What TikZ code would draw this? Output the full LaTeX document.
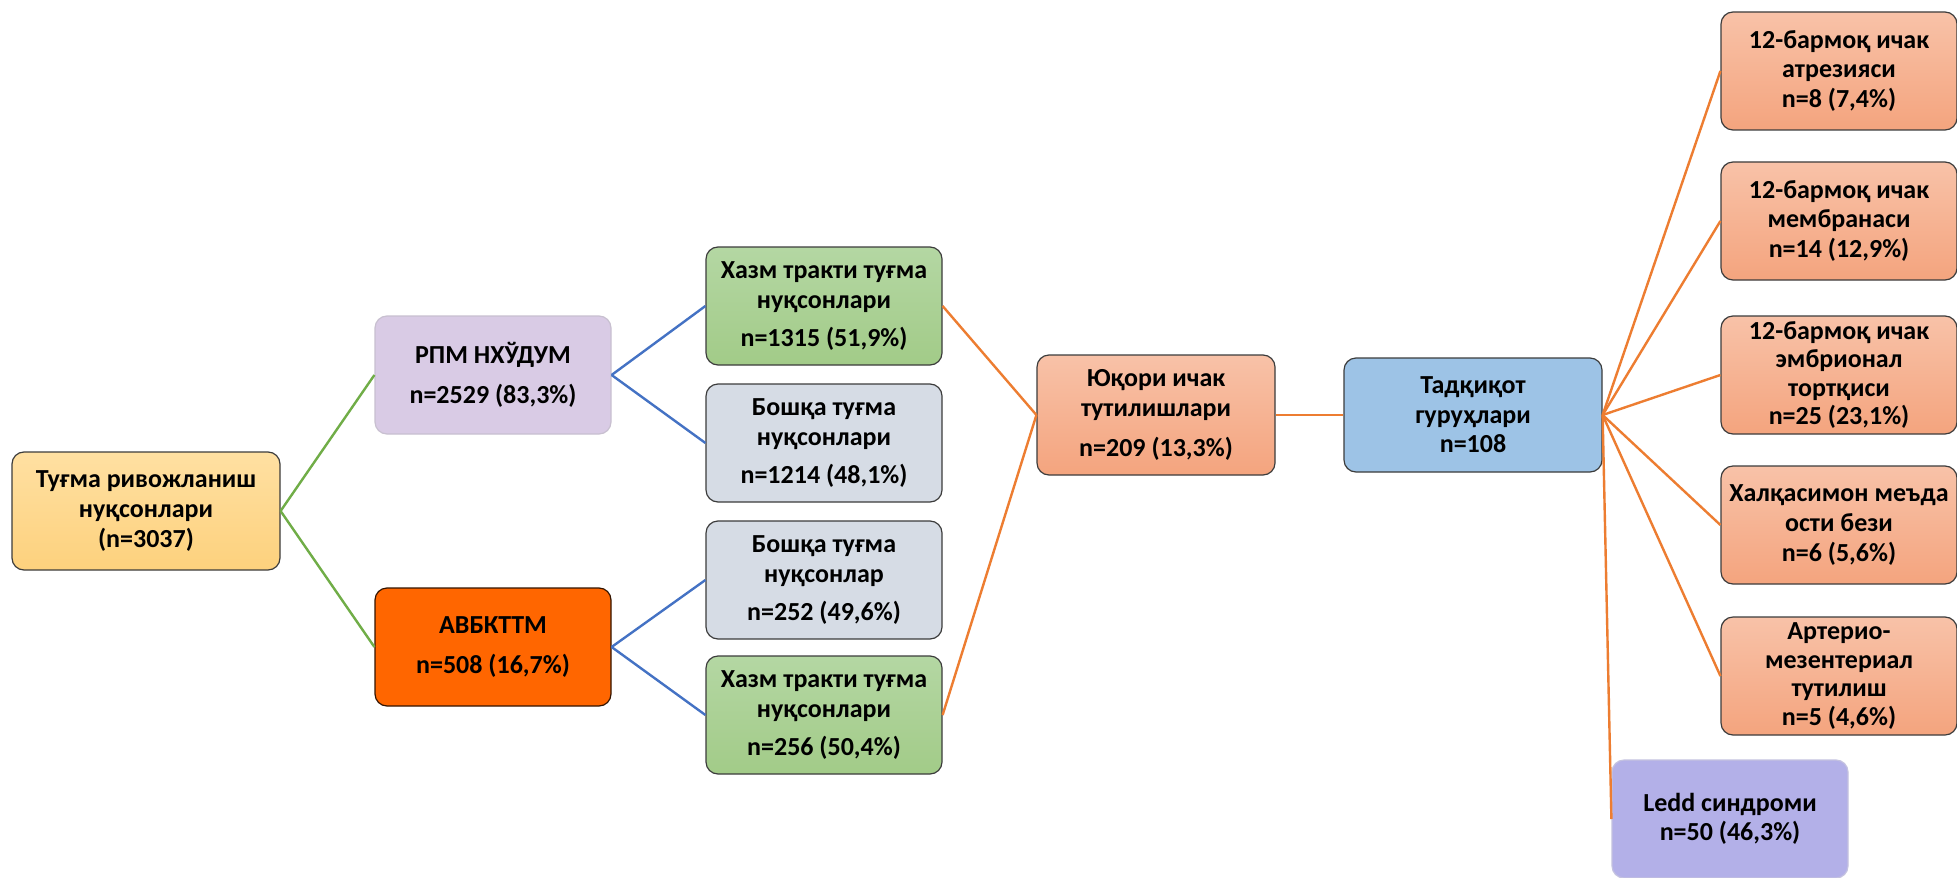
\documentclass[tikz,border=0pt]{standalone}
\usepackage{fontspec}
\setmainfont{Carlito}
\definecolor{cgreen}{HTML}{70AD47}
\definecolor{cblue}{HTML}{4472C4}
\definecolor{corange}{HTML}{ED7D31}
\definecolor{rootT}{HTML}{FFE0A2}
\definecolor{rootB}{HTML}{FDD17D}
\definecolor{lav}{HTML}{D9CBE5}
\definecolor{lavline}{HTML}{C8C0D0}
\definecolor{hot}{HTML}{FF6600}
\definecolor{grT}{HTML}{B4D7A3}
\definecolor{grB}{HTML}{A2CB88}
\definecolor{gry}{HTML}{D6DCE5}
\definecolor{saT}{HTML}{F8C2A8}
\definecolor{saB}{HTML}{F4A47E}
\definecolor{sky}{HTML}{9DC3E6}
\definecolor{led}{HTML}{B3B0E8}
\definecolor{ledline}{HTML}{C4C2E0}
\definecolor{edge}{HTML}{3C3C3C}
\tikzset{
  box/.style={draw=edge, line width=0.6pt, rounded corners=6pt, align=center,
    font=\bfseries\fontsize{13}{14.8}\selectfont, inner sep=0pt,
    minimum width=118pt, minimum height=59pt},
  rootbox/.style={box, top color=rootT, bottom color=rootB, minimum width=134pt},
  lavbox/.style={box, fill=lav, draw=lavline},
  hotbox/.style={box, fill=hot, draw=black!80!hot},
  greenbox/.style={box, top color=grT, bottom color=grB},
  graybox/.style={box, fill=gry},
  salbox/.style={box, top color=saT, bottom color=saB},
  skybox/.style={box, fill=sky, minimum width=129pt, minimum height=57pt},
  ledbox/.style={box, fill=led, draw=ledline},
  gline/.style={draw=cgreen, line width=1.2pt},
  bline/.style={draw=cblue, line width=1.2pt},
  oline/.style={draw=corange, line width=1.2pt}
}
\begin{document}
\begin{tikzpicture}[x=0.5pt,y=-0.5pt]
\useasboundingbox[fill=white] (0,0) rectangle (1957,877);

\node[rootbox] (root) at (146,511) {Туғма ривожланиш\\нуқсонлари\\(n=3037)};
\node[lavbox] (rpm) at (493,375) {РПМ НХЎДУМ\\[5pt]n=2529 (83,3\%)};
\node[hotbox] (avb) at (493,647) {АВБКТТМ\\[5pt]n=508 (16,7\%)};

\node[greenbox] (h1) at (824,306) {Хазм тракти туғма\\нуқсонлари\\[4pt]n=1315 (51,9\%)};
\node[graybox] (b1) at (824,443) {Бошқа туғма\\нуқсонлари\\[4pt]n=1214 (48,1\%)};
\node[graybox] (b2) at (824,580) {Бошқа туғма\\нуқсонлар\\[4pt]n=252 (49,6\%)};
\node[greenbox] (h2) at (824,715) {Хазм тракти туғма\\нуқсонлари\\[4pt]n=256 (50,4\%)};

\node[salbox, minimum width=119pt, minimum height=60pt] (yuq) at (1156,415) {Юқори ичак\\тутилишлари\\[5pt]n=209 (13,3\%)};
\node[skybox] (tad) at (1473,415) {Тадқиқот\\гуруҳлари\\n=108};

\node[salbox] (r1) at (1839,71) {12-бармоқ ичак\\атрезияси\\n=8 (7,4\%)};
\node[salbox] (r2) at (1839,221) {12-бармоқ ичак\\мембранаси\\n=14 (12,9\%)};
\node[salbox, font=\bfseries\fontsize{13}{14.2}\selectfont] (r3) at (1839,375) {12-бармоқ ичак\\эмбрионал\\тортқиси\\n=25 (23,1\%)};
\node[salbox] (r4) at (1839,525) {Халқасимон меъда\\ости бези\\n=6 (5,6\%)};
\node[salbox, font=\bfseries\fontsize{13}{14.2}\selectfont] (r5) at (1839,676) {Артерио-\\мезентериал\\тутилиш\\n=5 (4,6\%)};
\node[ledbox] (ledd) at (1730,819) {Ledd синдроми\\n=50 (46,3\%)};

\draw[gline] (root.east) -- (rpm.west);
\draw[gline] (root.east) -- (avb.west);
\draw[bline] (rpm.east) -- (h1.west);
\draw[bline] (rpm.east) -- (b1.west);
\draw[bline] (avb.east) -- (b2.west);
\draw[bline] (avb.east) -- (h2.west);
\draw[oline] (h1.east) -- (yuq.west);
\draw[oline] (h2.east) -- (yuq.west);
\draw[oline] (yuq.east) -- (tad.west);
\foreach \t in {r1,r2,r3,r4,r5,ledd}
  \draw[oline] (tad.east) -- (\t.west);
\end{tikzpicture}
\end{document}
